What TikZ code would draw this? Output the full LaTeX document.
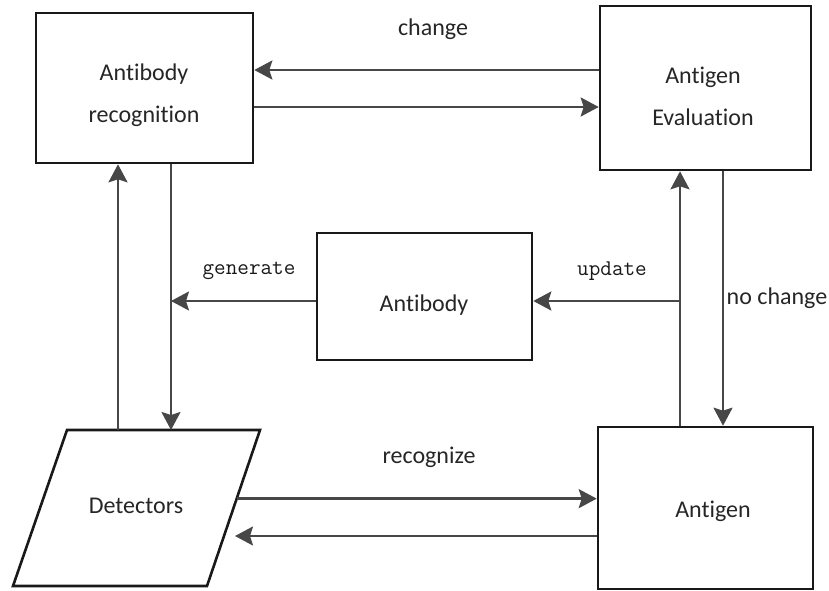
\documentclass[tikz,border=0pt]{standalone}
\usepackage{fontspec}
\setmainfont{Carlito}[Ligatures={NoCommon}]
\usetikzlibrary{arrows.meta,calc}
\begin{document}
\begin{tikzpicture}[x=1pt,y=-1pt,
  box/.style={draw=black!90, line width=2.6pt, rectangle, inner sep=0pt},
  conn/.style={draw=black!72, line width=2.4pt, -{Stealth[length=18pt,width=19pt,inset=3pt]}},
  lbl/.style={font=\fontsize{24}{42}\selectfont, inner sep=0pt, align=center, text=black!85},
  code/.style={font=\ttfamily\fontsize{22.5}{26}\selectfont, inner sep=0pt, text=black!90}]
\useasboundingbox (0,0) rectangle (829,590);
% boxes
\node[box, minimum width=217pt, minimum height=150pt] (ar) at (144.5,88) {};
\node[box, minimum width=211pt, minimum height=164pt] (ae) at (705.5,88) {};
\node[box, minimum width=215pt, minimum height=127pt] (ab) at (424.5,296.5) {};
\node[box, minimum width=215pt, minimum height=162pt] (ag) at (705.5,508) {};
% detectors parallelogram
\coordinate (dtl) at (67,430);
\coordinate (dtr) at (260,430);
\coordinate (dbr) at (207,586);
\coordinate (dbl) at (13,586);
\draw[draw=black!90, line width=2.6pt, line join=miter] (dtl) -- (dtr) -- (dbr) -- (dbl) -- cycle;
% box texts
\node[lbl] (arT) at (144,95) {Antibody\\recognition};
\node[lbl] (aeT) at (703,96) {Antigen\\Evaluation};
\node[lbl] (abT) at (424,305) {Antibody};
\node[lbl] (agT) at (713,511) {Antigen};
\node[lbl] (det) at (136,506) {Detectors};
% helper coordinates
\coordinate (h1) at (0,70);
\coordinate (h2) at (0,107);
\coordinate (h3) at (0,301);
\coordinate (h5) at (0,536);
\coordinate (v1) at (118,0);
\coordinate (v2) at (171,0);
\coordinate (v3) at (680,0);
\coordinate (v4) at (723,0);
\coordinate (dr1) at ($(dtr)!0.44!(dbr)$);
\coordinate (dr2) at (235,536);
% connectors
\draw[conn] (ae.west |- h1) -- (ar.east |- h1);
\draw[conn] (ar.east |- h2) -- (ae.west |- h2);
\draw[conn] (ar.south -| v2) -- (v2 |- dtl);
\draw[conn] (v1 |- dtl) -- (ar.south -| v1);
\draw[conn] (ab.west |- h3) -- (v2 |- h3);
\draw[conn] (v3 |- h3) -- (ab.east |- h3);
\draw[conn] (ag.north -| v3) -- (ae.south -| v3);
\draw[conn] (ae.south -| v4) -- (ag.north -| v4);
\draw[conn] (dr1) -- (ag.west |- dr1);
\draw[conn] (ag.west |- h5) -- (dr2);
% labels
\node[lbl] (lchange) at (433,29) {change};
\node[lbl] (lnochange) at (777,298) {no change};
\node[lbl] (lrecognize) at (429,457) {recognize};
\node[code] (lgenerate) at (249,271) {generate};
\node[code] (lupdate) at (612,271) {update};
\end{tikzpicture}
\end{document}
